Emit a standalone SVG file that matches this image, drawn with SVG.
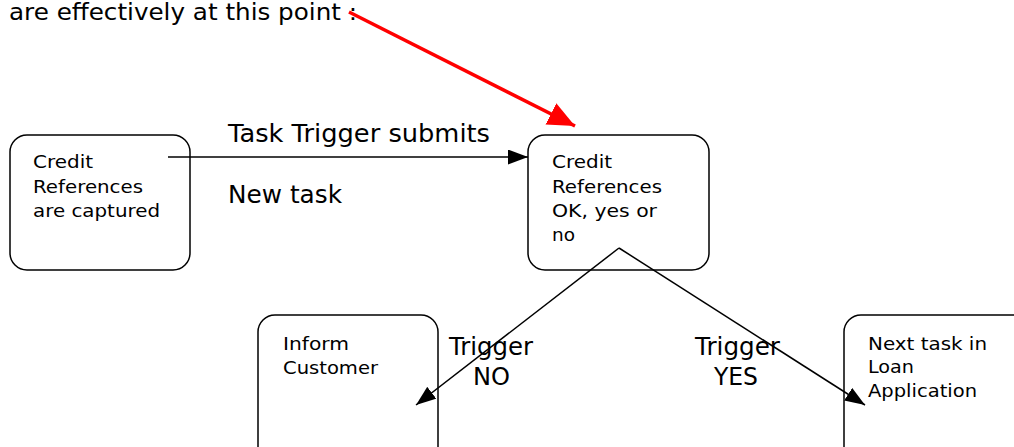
<svg xmlns="http://www.w3.org/2000/svg" width="1014" height="447" viewBox="0 0 1014 447">
<style>
.box{fill:#fff;stroke:#000;stroke-width:1.5}
.t{font-family:"DejaVu Sans",Verdana,sans-serif;font-size:18px;fill:#000}
.big{font-family:"DejaVu Sans",Verdana,sans-serif;font-size:24px;fill:#000}
.c{stroke:#000;stroke-width:1.5;fill:none}
</style>
<defs>
<marker id="ah" viewBox="0 0 20 15" refX="20" refY="7.5" markerWidth="20" markerHeight="15" markerUnits="userSpaceOnUse" orient="auto"><path d="M0,0 L20,7.5 L0,15 z" fill="#000"/></marker>
<marker id="ahr" viewBox="0 0 27 24" refX="27" refY="12" markerWidth="27" markerHeight="24" markerUnits="userSpaceOnUse" orient="auto"><path d="M0,0 L27,12 L0,24 z" fill="#f00"/></marker>
</defs>
<text class="big" x="9" y="20" style="font-size:23px" textLength="348" lengthAdjust="spacingAndGlyphs">are effectively at this point :</text>
<g id="n1"><rect class="box" x="10" y="135" width="180" height="135" rx="17"/>
<text class="t" x="33" y="168" textLength="60" lengthAdjust="spacingAndGlyphs">Credit</text><text class="t" x="33" y="193" textLength="110" lengthAdjust="spacingAndGlyphs">References</text><text class="t" x="33" y="217" textLength="127" lengthAdjust="spacingAndGlyphs">are captured</text></g>
<g id="n2"><rect class="box" x="528" y="135" width="181" height="135" rx="17"/>
<text class="t" x="552" y="168" textLength="60" lengthAdjust="spacingAndGlyphs">Credit</text><text class="t" x="552" y="193" textLength="110" lengthAdjust="spacingAndGlyphs">References</text><text class="t" x="552" y="217" textLength="105" lengthAdjust="spacingAndGlyphs">OK, yes or</text><text class="t" x="552" y="241" textLength="23" lengthAdjust="spacingAndGlyphs">no</text></g>
<g id="n3"><rect class="box" x="258" y="315" width="180" height="150" rx="17"/>
<text class="t" x="283" y="350" textLength="66" lengthAdjust="spacingAndGlyphs">Inform</text><text class="t" x="283" y="374" textLength="95" lengthAdjust="spacingAndGlyphs">Customer</text></g>
<g id="n4"><rect class="box" x="844" y="315" width="190" height="150" rx="17"/>
<text class="t" x="868" y="350" textLength="119" lengthAdjust="spacingAndGlyphs">Next task in</text><text class="t" x="868" y="373" textLength="46" lengthAdjust="spacingAndGlyphs">Loan</text><text class="t" x="868" y="397" textLength="109" lengthAdjust="spacingAndGlyphs">Application</text></g>
<g id="connectors">
<line class="c" x1="168" y1="157" x2="528" y2="157" marker-end="url(#ah)"/>
<line x1="349" y1="12" x2="575" y2="126" stroke="#f00" stroke-width="3.5" marker-end="url(#ahr)"/>
<line class="c" x1="619" y1="248" x2="416" y2="405" marker-end="url(#ah)"/>
<line class="c" x1="619" y1="248" x2="865" y2="405" marker-end="url(#ah)"/>
</g>
<text class="big" x="228" y="142" textLength="262" lengthAdjust="spacingAndGlyphs">Task Trigger submits</text>
<text class="big" x="228" y="203" textLength="114" lengthAdjust="spacingAndGlyphs">New task</text>
<text class="big" x="449" y="355" textLength="84" lengthAdjust="spacingAndGlyphs">Trigger</text>
<text class="big" x="473" y="385" textLength="37" lengthAdjust="spacingAndGlyphs">NO</text>
<text class="big" x="695" y="355" textLength="85" lengthAdjust="spacingAndGlyphs">Trigger</text>
<text class="big" x="714" y="385" textLength="44" lengthAdjust="spacingAndGlyphs">YES</text>
</svg>
